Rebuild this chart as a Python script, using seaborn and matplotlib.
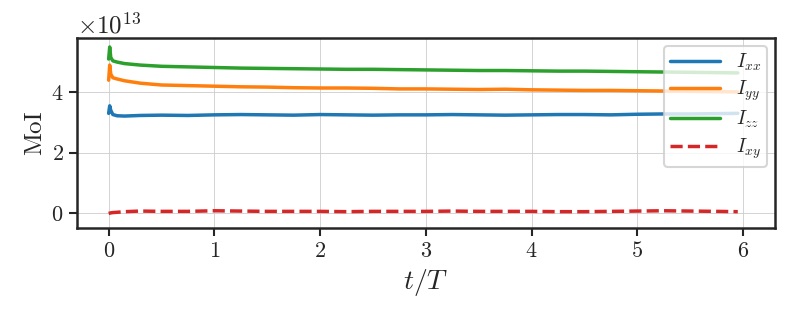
import numpy as np
import pandas as pd
import seaborn as sns
import matplotlib.pyplot as plt

# time (t/T) and moments of inertia (in units of 1e13)
t = [0.0, 0.01, 0.02, 0.04, 0.08, 0.15, 0.3, 0.5, 0.75, 1.0, 1.25, 1.5, 1.75, 2.0, 2.25,
     2.5, 2.75, 3.0, 3.25, 3.5, 3.75, 4.0, 4.25, 4.5, 4.75, 5.0, 5.25, 5.5, 5.75, 5.95]
ixx = [3.30, 3.55, 3.40, 3.26, 3.22, 3.21, 3.23, 3.24, 3.23, 3.25, 3.26, 3.25, 3.24, 3.26, 3.25,
       3.24, 3.25, 3.25, 3.26, 3.25, 3.24, 3.25, 3.26, 3.26, 3.25, 3.27, 3.28, 3.28, 3.29, 3.30]
iyy = [4.40, 4.90, 4.60, 4.48, 4.44, 4.38, 4.30, 4.24, 4.22, 4.20, 4.18, 4.17, 4.15, 4.14, 4.14,
       4.13, 4.11, 4.11, 4.10, 4.09, 4.10, 4.08, 4.07, 4.06, 4.06, 4.05, 4.04, 4.03, 4.02, 4.01]
izz = [5.10, 5.50, 5.15, 5.04, 5.00, 4.95, 4.90, 4.86, 4.84, 4.82, 4.80, 4.79, 4.78, 4.77, 4.76,
       4.76, 4.75, 4.74, 4.73, 4.72, 4.72, 4.71, 4.70, 4.70, 4.69, 4.68, 4.67, 4.66, 4.65, 4.64]
ixy = [-0.02, -0.01, 0.0, 0.01, 0.02, 0.04, 0.06, 0.05, 0.05, 0.07, 0.06, 0.05, 0.05, 0.05, 0.04,
       0.05, 0.05, 0.05, 0.06, 0.05, 0.05, 0.05, 0.04, 0.04, 0.05, 0.06, 0.07, 0.06, 0.05, 0.04]

scale = 1e13
df = pd.DataFrame({
    't': t * 4,
    'MoI': np.array(ixx + iyy + izz + ixy) * scale,
    'comp': ['$I_{xx}$'] * len(t) + ['$I_{yy}$'] * len(t) + ['$I_{zz}$'] * len(t) + ['$I_{xy}$'] * len(t),
})

sns.set_style('ticks')
plt.rcParams['font.family'] = ['cmr10', 'DejaVu Serif']
plt.rcParams['mathtext.fontset'] = 'cm'
plt.rcParams['axes.formatter.use_mathtext'] = True

fig, ax = plt.subplots(figsize=(7.85, 3.11), dpi=100)
pal = {'$I_{xx}$': '#1f77b4', '$I_{yy}$': '#ff7f0e', '$I_{zz}$': '#2ca02c', '$I_{xy}$': '#d62728'}
dashes = {'$I_{xx}$': '', '$I_{yy}$': '', '$I_{zz}$': '', '$I_{xy}$': (3.5, 1.5)}
sns.lineplot(data=df, x='t', y='MoI', hue='comp', style='comp', palette=pal, dashes=dashes,
             linewidth=2.5, ax=ax)

ax.set_xlim(-0.3, 6.3)
ax.set_ylim(-0.5e13, 5.8e13)
ax.set_yticks([0, 2e13, 4e13])
ax.set_xticks(range(7))
ax.grid(True, color='#cccccc', linewidth=0.6)
for s in ax.spines.values():
    s.set_linewidth(1.8)
ax.tick_params(labelsize=16, width=1.5, length=6)
ax.yaxis.get_offset_text().set_fontsize(18)
ax.set_xlabel('$t/T$', fontsize=20)
ax.set_ylabel('MoI', fontsize=18)
leg = ax.legend(loc='upper right', fontsize=14, framealpha=0.8, edgecolor='#cccccc',
                handlelength=2.6, borderaxespad=0.4, labelspacing=0.3, borderpad=0.3)
leg.get_frame().set_linewidth(1.5)

fig.subplots_adjust(left=0.098, right=0.987, top=0.878, bottom=0.267)
fig.savefig('out.png', dpi=100)
